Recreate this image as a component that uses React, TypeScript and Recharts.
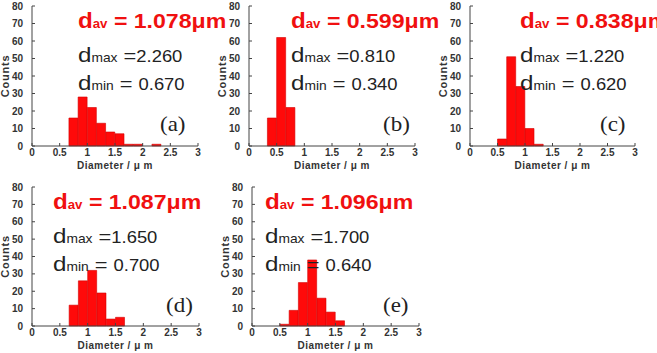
import React from 'react'
import { ComposedChart, Bar, XAxis, YAxis } from 'recharts'

// histogram bins are 1/6 µm wide; each list holds the left edge of every bin
const BIN_W = 1 / 6

const edgesA = [0.667, 0.833, 1.0, 1.167, 1.333, 1.5, 1.667, 1.833, 2.0, 2.167]
const countsA = [16, 28, 22, 13, 8, 7, 1, 1, 0, 1]

const edgesB = [0.333, 0.5, 0.667]
const countsB = [16, 62, 22]

const edgesC = [0.5, 0.667, 0.833, 1.0, 1.167]
const countsC = [4, 51, 34, 10, 1]

const edgesD = [0.667, 0.833, 1.0, 1.167, 1.333, 1.5]
const countsD = [12, 26, 32, 19, 4, 5]

const edgesE = [0.5, 0.667, 0.833, 1.0, 1.167, 1.333, 1.5]
const countsE = [1, 9, 25, 38, 16, 8, 3]

const xTicks = [0, 0.5, 1, 1.5, 2, 2.5, 3]
const yTicks = [0, 10, 20, 30, 40, 50, 60, 70, 80]

const dAv = ['1.078', '0.599', '0.838', '1.087', '1.096']
const dMax = ['2.260', '0.810', '1.220', '1.650', '1.700']
const dMin = ['0.670', '0.340', '0.620', '0.700', '0.640']
const tags = ['(a)', '(b)', '(c)', '(d)', '(e)']

const SANS = '"Liberation Sans", Arial, sans-serif'
const SERIF = '"Liberation Serif", "Times New Roman", serif'
const INK = '#222'

interface PanelProps {
  left: number
  top: number
  w: number
  h: number
  edges: number[]
  counts: number[]
}

function Panel({ left, top, w, h, edges, counts }: PanelProps) {
  const data = edges.map((e, i) => ({ mid: e + BIN_W / 2, count: counts[i] }))
  const tickStyle = { fontSize: 10, fontWeight: 700, fill: '#333', fontFamily: SANS }

  return (
    <ComposedChart
      width={w + 36}
      height={h + 36}
      data={data}
      margin={{ top: 6, right: 4, left: 0, bottom: 0 }}
      barCategoryGap={0}
      barGap={0}
      style={{ position: 'absolute', left: left - 32, top: top - 6, overflow: 'visible' }}
    >
      <XAxis
        dataKey="mid"
        type="number"
        domain={[0, 3]}
        ticks={xTicks}
        interval={0}
        height={30}
        tickSize={-3}
        tickMargin={6}
        tick={tickStyle}
        stroke="#444"
        label={{
          content: (p: any) => {
            const vb = p.viewBox
            return (
              <text x={vb.x + vb.width / 2} y={vb.y + 23} textAnchor="middle" letterSpacing={0.5}
                fontSize={10} fontWeight={700} fill="#333" fontFamily={SANS}>
                Diameter / μ m
              </text>
            )
          },
        }}
      />
      <XAxis xAxisId="top" orientation="top" type="number" domain={[0, 3]}
        height={0} tick={false} tickLine={false} stroke="#444" />
      <YAxis
        type="number"
        domain={[0, 80]}
        ticks={yTicks}
        interval={0}
        width={32}
        tickSize={-3}
        tickMargin={12}
        tick={tickStyle}
        stroke="#444"
        label={{
          content: (p: any) => {
            const vb = p.viewBox
            const cx = vb.x + 6
            const cy = vb.y + vb.height / 2
            return (
              <text x={cx} y={cy} transform={`rotate(-90, ${cx}, ${cy})`} textAnchor="middle"
                dominantBaseline="middle" fontSize={11} letterSpacing={0.8} fontWeight={700}
                fill="#333" fontFamily={SANS}>
                Counts
              </text>
            )
          },
        }}
      />
      <YAxis yAxisId="right" orientation="right" domain={[0, 80]}
        width={0} tick={false} tickLine={false} stroke="#444" />
      <Bar dataKey="count" fill="#ff0a0a" stroke="#d40000" strokeWidth={0.6} isAnimationActive={false} />
    </ComposedChart>
  )
}

// d_av / d_max / d_min block plus the panel letter
function Notes({ x, y, i, tagX, tagY }: { x: number; y: number; i: number; tagX: number; tagY: number }) {
  return (
    <g fontFamily={SANS}>
      <text transform={`translate(${x}, ${y}) scale(1.1, 1)`} fill="#f01010" fontWeight={700}>
        <tspan fontSize={22}>d</tspan>
        <tspan fontSize={12}>av</tspan>
        <tspan fontSize={21}>{` = ${dAv[i]}μm`}</tspan>
      </text>
      <text transform={`translate(${x}, ${y + 34}) scale(1.15, 1)`} fill={INK}>
        <tspan fontSize={21}>d</tspan>
        <tspan fontSize={12}>max</tspan>
        <tspan fontSize={19}>{' ='}</tspan>
        <tspan fontSize={16}>{dMax[i]}</tspan>
      </text>
      <text transform={`translate(${x}, ${y + 62}) scale(1.15, 1)`} fill={INK}>
        <tspan fontSize={21}>d</tspan>
        <tspan fontSize={12}>min</tspan>
        <tspan fontSize={19}>{' = '}</tspan>
        <tspan fontSize={16}>{dMin[i]}</tspan>
      </text>
      <text transform={`translate(${tagX}, ${tagY}) scale(1.15, 1)`} fill={INK}
        fontFamily={SERIF} fontSize={20}>
        {tags[i]}
      </text>
    </g>
  )
}

export default function App() {
  return (
    <div style={{ position: 'relative', width: 657, height: 353, background: '#fff', overflow: 'hidden' }}>
      <style>{'body{margin:0}'}</style>
      <Panel left={32} top={6} w={166} h={140} edges={edgesA} counts={countsA} />
      <Panel left={249} top={6} w={166} h={140} edges={edgesB} counts={countsB} />
      <Panel left={470} top={6} w={165} h={140} edges={edgesC} counts={countsC} />
      <Panel left={32} top={187} w={167} h={139} edges={edgesD} counts={countsD} />
      <Panel left={252} top={187} w={167} h={139} edges={edgesE} counts={countsE} />
      <svg width={657} height={353} style={{ position: 'absolute', left: 0, top: 0, pointerEvents: 'none' }}>
        <Notes x={78} y={28} i={0} tagX={160} tagY={131} />
        <Notes x={291} y={28} i={1} tagX={383} tagY={131} />
        <Notes x={520} y={28} i={2} tagX={600} tagY={131} />
        <Notes x={53} y={209} i={3} tagX={166} tagY={312} />
        <Notes x={265} y={209} i={4} tagX={383} tagY={312} />
      </svg>
    </div>
  )
}
